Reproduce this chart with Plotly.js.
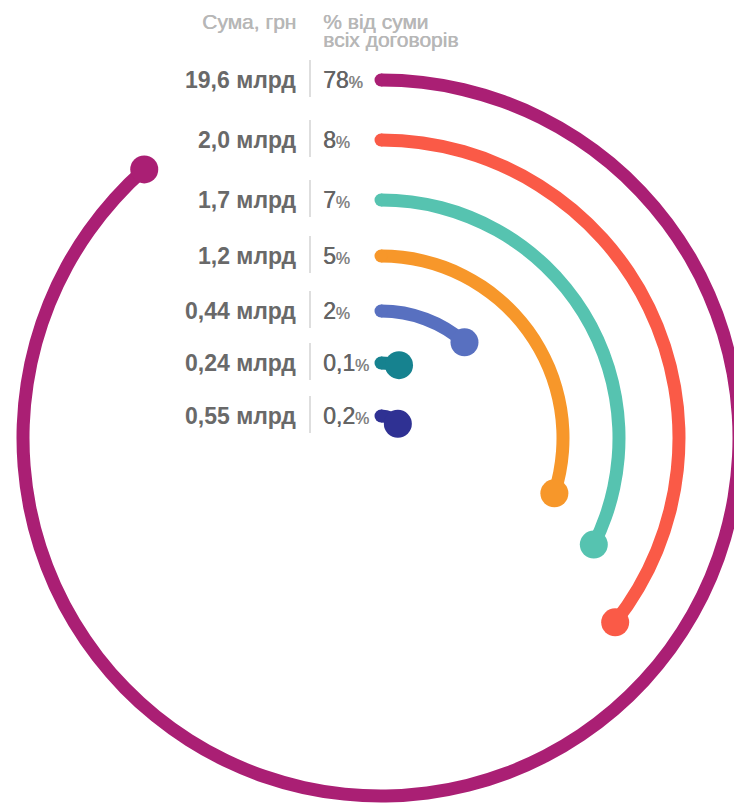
<!DOCTYPE html>
<html>
<head>
<meta charset="utf-8">
<script src="https://cdn.plot.ly/plotly-3.0.1.min.js"></script>
<style>
  html, body { margin: 0; padding: 0; background: #fff; overflow: hidden; width: 734px; height: 803px; }
  #chart { position: absolute; left: -19px; top: 0; width: 800px; height: 838px; }
</style>
</head>
<body>
<div id="chart"></div>
<script>
// Contract sums, their share of all contracts, and arc sweep in degrees (clockwise from 12 o'clock)
const sumLabels   = ['19,6 млрд', '2,0 млрд', '1,7 млрд', '1,2 млрд', '0,44 млрд', '0,24 млрд', '0,55 млрд'];
const shareLabels = ['78', '8', '7', '5', '2', '0,1', '0,2'];
const arcSweep    = [318.6, 128.2, 116.6, 107.7, 41.1, 13.9, 50];

// Header texts
const headSum   = 'Сума, грн';
const headShare = ['% від суми', 'всіх договорів'];

// Ring geometry and colours
const ringRadius = [358, 298, 238, 182, 127, 75, 22];
const ringColors = ['#AA1F74', '#FA5A47', '#56C3B0', '#F7972A', '#5870C0', '#16828F', '#2F3193'];
const STROKE = 13;
const DOT = 28;

// Figure is wider than the window so the outer ring runs off the right edge
const W = 800, H = 838, OFFSET_X = -19;
const CY = 438;
const px = x => (x - OFFSET_X) / W;
const py = y => 1 - y / H;

const FONT = 'Liberation Sans, Arial, Helvetica, sans-serif';

const arcs = {
  type: 'barpolar',
  r: ringRadius.map(() => STROKE),
  base: ringRadius.map(r => r - STROKE / 2),
  theta: arcSweep.map(s => s / 2),
  width: arcSweep,
  marker: { color: ringColors, line: { width: 0 } },
  hoverinfo: 'skip'
};

// rounded start of each arc
const caps = {
  type: 'scatterpolar', mode: 'markers',
  r: ringRadius, theta: ringRadius.map(() => 0),
  marker: { size: STROKE, color: ringColors, line: { width: 0 } },
  hoverinfo: 'skip'
};

// end dot of each arc
const dots = {
  type: 'scatterpolar', mode: 'markers',
  r: ringRadius, theta: arcSweep,
  marker: { size: DOT, color: ringColors, line: { width: 0 } },
  hoverinfo: 'skip'
};

const annotations = [];
const shapes = [];

// a hairline shadow gives the regular face a medium weight
const headFont = { family: FONT, size: 21, color: '#b7b7b7', shadow: '0.5px 0 0 #b7b7b7' };
annotations.push({
  text: headSum, x: px(298), y: py(21), xref: 'paper', yref: 'paper',
  xanchor: 'right', yanchor: 'middle', showarrow: false, font: headFont
});
headShare.forEach((t, k) => annotations.push({
  text: t, x: px(321), y: py(21 + k * 19), xref: 'paper', yref: 'paper',
  xanchor: 'left', yanchor: 'middle', showarrow: false, font: headFont
}));

ringRadius.forEach((r, i) => {
  const y = CY - r;
  annotations.push({
    text: '<b>' + sumLabels[i] + '</b>', x: px(298), y: py(y), xref: 'paper', yref: 'paper',
    xanchor: 'right', yanchor: 'middle', showarrow: false,
    font: { family: FONT, size: 23, color: '#696969' }
  });
  annotations.push({
    text: shareLabels[i] + '<span style="font-size:16px;color:#858585;text-shadow:0.3px 0 0 #858585">%</span>',
    x: px(321), y: py(y), xref: 'paper', yref: 'paper',
    xanchor: 'left', yanchor: 'middle', showarrow: false,
    font: { family: FONT, size: 23, color: '#646464', shadow: '0.5px 0 0 #646464' }
  });
  shapes.push({
    type: 'line', xref: 'paper', yref: 'paper',
    x0: px(310), x1: px(310), y0: py(y - 20), y1: py(y + 17),
    line: { color: '#d3d3d3', width: 1.5 }
  });
});

const layout = {
  width: W, height: H,
  margin: { l: 0, r: 0, t: 0, b: 0, pad: 0 },
  paper_bgcolor: '#ffffff',
  showlegend: false,
  polar: {
    domain: { x: [0, 1], y: [0, 800 / H] },
    bgcolor: 'rgba(0,0,0,0)',
    barmode: 'overlay',
    radialaxis: { range: [0, 400], visible: false, showgrid: false, showline: false, ticks: '' },
    angularaxis: { rotation: 90, direction: 'clockwise', visible: false, showgrid: false, showline: false, ticks: '' }
  },
  annotations: annotations,
  shapes: shapes
};

Plotly.newPlot('chart', [arcs, caps, dots], layout, { staticPlot: true, displayModeBar: false });
</script>
</body>
</html>
